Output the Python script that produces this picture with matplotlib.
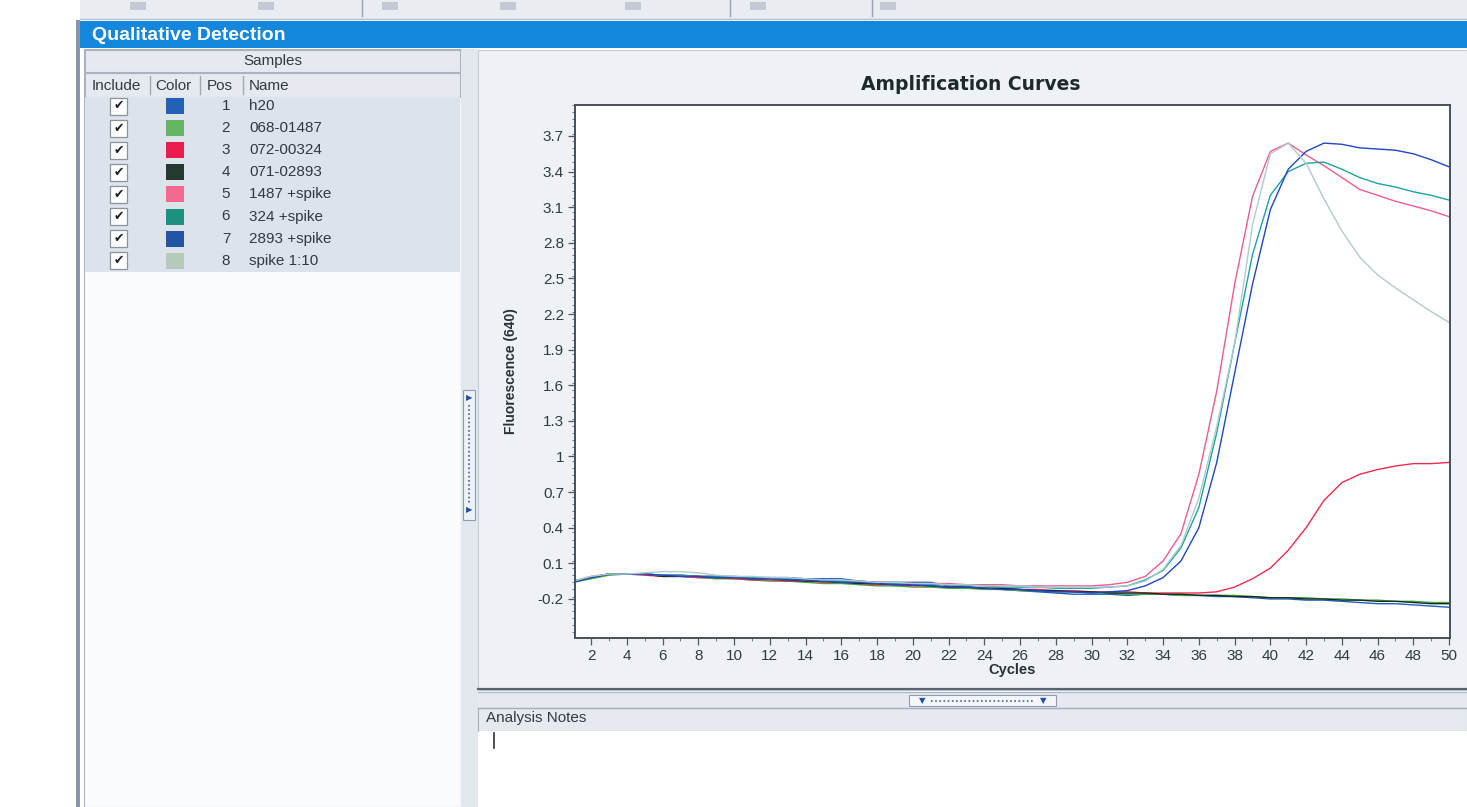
import matplotlib
matplotlib.use('Agg')
import matplotlib.pyplot as plt
from matplotlib.patches import Rectangle
from matplotlib.ticker import MultipleLocator, FixedLocator

# Sample table
sample_pos = [1, 2, 3, 4, 5, 6, 7, 8]
sample_names = ['h20', '068-01487', '072-00324', '071-02893',
                '1487 +spike', '324 +spike', '2893 +spike', 'spike 1:10']
swatch_colors = ['#2262b4', '#62b664', '#ea1e4c', '#263830',
                 '#f26a8c', '#1c9180', '#2256a4', '#b6cabc']
line_colors = ['#1f5fc4', '#3aae3a', '#f02a4e', '#1a2a22',
               '#f25a90', '#1aa4a2', '#2046c4', '#aecccc']

cycles = list(range(1, 51))

# Fluorescence (640) per cycle
h20 = [-0.06, -0.02, 0.01, 0.01, 0.01, 0.00, 0.00, -0.01, -0.01, -0.01,
       -0.02, -0.02, -0.02, -0.03, -0.03, -0.03, -0.05, -0.06, -0.06, -0.06,
       -0.06, -0.09, -0.10, -0.11, -0.12, -0.13, -0.14, -0.15, -0.16, -0.16,
       -0.16, -0.17, -0.16, -0.16, -0.17, -0.17, -0.18, -0.18, -0.19, -0.20,
       -0.20, -0.21, -0.21, -0.22, -0.23, -0.24, -0.24, -0.25, -0.26, -0.27]
s068 = [-0.06, -0.03, 0.00, 0.01, 0.01, -0.01, -0.01, -0.02, -0.03, -0.03,
        -0.04, -0.05, -0.05, -0.06, -0.07, -0.07, -0.08, -0.09, -0.09, -0.10,
        -0.10, -0.11, -0.11, -0.12, -0.12, -0.13, -0.13, -0.14, -0.14, -0.15,
        -0.15, -0.16, -0.16, -0.16, -0.17, -0.17, -0.17, -0.17, -0.18, -0.19,
        -0.19, -0.19, -0.20, -0.20, -0.21, -0.21, -0.22, -0.22, -0.23, -0.23]
s072 = [-0.05, -0.02, 0.01, 0.01, 0.00, -0.01, -0.01, -0.02, -0.02, -0.03,
        -0.04, -0.04, -0.05, -0.05, -0.06, -0.06, -0.07, -0.08, -0.08, -0.09,
        -0.09, -0.10, -0.10, -0.11, -0.11, -0.12, -0.12, -0.13, -0.13, -0.14,
        -0.14, -0.14, -0.15, -0.15, -0.15, -0.15, -0.14, -0.10, -0.03, 0.06,
        0.21, 0.40, 0.63, 0.78, 0.85, 0.89, 0.92, 0.94, 0.94, 0.95]
s071 = [-0.05, -0.02, 0.01, 0.01, 0.01, -0.01, -0.01, -0.01, -0.02, -0.02,
        -0.03, -0.03, -0.04, -0.05, -0.05, -0.06, -0.07, -0.07, -0.08, -0.08,
        -0.09, -0.10, -0.10, -0.11, -0.11, -0.12, -0.13, -0.13, -0.14, -0.14,
        -0.15, -0.15, -0.15, -0.16, -0.16, -0.17, -0.17, -0.18, -0.18, -0.19,
        -0.19, -0.20, -0.20, -0.21, -0.21, -0.22, -0.22, -0.23, -0.24, -0.24]
s1487_spike = [-0.05, -0.01, 0.01, 0.01, 0.01, 0.00, 0.00, -0.01, -0.01, -0.02,
               -0.02, -0.03, -0.03, -0.04, -0.04, -0.05, -0.05, -0.06, -0.06, -0.07,
               -0.07, -0.07, -0.08, -0.08, -0.08, -0.09, -0.09, -0.09, -0.09, -0.09,
               -0.08, -0.06, -0.01, 0.12, 0.35, 0.85, 1.55, 2.45, 3.19, 3.57,
               3.64, 3.54, 3.45, 3.35, 3.25, 3.20, 3.15, 3.11, 3.07, 3.02]
s324_spike = [-0.05, -0.02, 0.01, 0.01, 0.01, 0.00, 0.00, -0.01, -0.01, -0.02,
              -0.02, -0.02, -0.03, -0.04, -0.04, -0.05, -0.05, -0.06, -0.07, -0.07,
              -0.08, -0.08, -0.09, -0.09, -0.10, -0.10, -0.10, -0.11, -0.11, -0.11,
              -0.10, -0.09, -0.04, 0.04, 0.23, 0.57, 1.20, 1.95, 2.70, 3.20,
              3.40, 3.47, 3.48, 3.42, 3.35, 3.30, 3.27, 3.23, 3.20, 3.16]
s2893_spike = [-0.06, -0.02, 0.01, 0.01, 0.01, 0.00, -0.01, -0.01, -0.02, -0.02,
               -0.03, -0.03, -0.04, -0.04, -0.05, -0.06, -0.06, -0.07, -0.08, -0.08,
               -0.09, -0.10, -0.10, -0.11, -0.12, -0.12, -0.13, -0.14, -0.14, -0.15,
               -0.14, -0.13, -0.09, -0.02, 0.12, 0.40, 0.95, 1.70, 2.45, 3.08,
               3.42, 3.57, 3.64, 3.63, 3.60, 3.59, 3.58, 3.55, 3.50, 3.44]
spike_1_10 = [-0.05, -0.01, 0.01, 0.01, 0.02, 0.03, 0.03, 0.02, 0.00, -0.01,
              -0.01, -0.02, -0.02, -0.03, -0.04, -0.04, -0.05, -0.06, -0.06, -0.07,
              -0.07, -0.08, -0.08, -0.09, -0.09, -0.09, -0.10, -0.10, -0.10, -0.10,
              -0.10, -0.09, -0.05, 0.05, 0.25, 0.65, 1.25, 1.95, 2.95, 3.55,
              3.64, 3.47, 3.17, 2.90, 2.68, 2.53, 2.42, 2.32, 2.22, 2.13]

series = [h20, s068, s072, s071, s1487_spike, s324_spike, s2893_spike, spike_1_10]

y_ticks = [3.7, 3.4, 3.1, 2.8, 2.5, 2.2, 1.9, 1.6, 1.3, 1.0, 0.7, 0.4, 0.1, -0.2]
y_tick_labels = ['3.7', '3.4', '3.1', '2.8', '2.5', '2.2', '1.9', '1.6', '1.3',
                 '1', '0.7', '0.4', '0.1', '-0.2']
x_ticks = list(range(2, 51, 2))

plt.rcParams['font.family'] = ['Liberation Sans', 'DejaVu Sans']

W, H = 1467, 807
fig = plt.figure(figsize=(W / 100, H / 100), dpi=100)
fig.patch.set_facecolor('white')

# background "window" drawn in pixel coordinates
bg = fig.add_axes([0, 0, 1, 1])
bg.set_xlim(0, W)
bg.set_ylim(H, 0)
bg.axis('off')


def box(x, y, w, h, fc, ec='none', lw=0.0, z=1):
    bg.add_patch(Rectangle((x, y), w, h, facecolor=fc, edgecolor=ec, linewidth=lw, zorder=z))


# toolbar strip and title bar
box(80, 0, W - 80, 20, '#e9ecf1')
bg.plot([80, W], [19, 19], color='#b8c0cc', lw=1)
for sx in [362, 730, 872]:
    bg.plot([sx, sx], [0, 16], color='#9aa2ae', lw=1)
for ix in [130, 258, 382, 500, 625, 750, 880]:
    box(ix, 2, 16, 8, '#c4cad4', z=2)
box(80, 21, W - 80, 27, '#1487dd')
bg.text(92, 35, 'Qualitative Detection', color='white', fontsize=14,
        fontweight='bold', va='center', ha='left')

# left border
box(76, 20, 4, H - 20, '#8b97a9')

# left sample panel
box(84, 49, 377, H - 49, '#fafbfc', ec='#a9b2be', lw=0.8)
box(85, 50, 375, 22, '#e6eaf0', ec='#a9b2be', lw=0.8)
bg.text(273, 61, 'Samples', fontsize=11, color='#303a40', ha='center', va='center')
box(85, 73, 375, 24, '#e6eaf0', ec='#a9b2be', lw=0.8)
for dx in [150, 200, 243]:
    bg.plot([dx, dx], [76, 94], color='#a0a8b4', lw=1, zorder=3)
for tx, lab in [(92, 'Include'), (155, 'Color'), (207, 'Pos'), (249, 'Name')]:
    bg.text(tx, 85.5, lab, fontsize=11, color='#303a40', ha='left', va='center')
box(85, 97, 375, 175, '#dde3eb')

row_y0, row_dy = 106, 22.1
for i, (pos, name, sc) in enumerate(zip(sample_pos, sample_names, swatch_colors)):
    ry = row_y0 + i * row_dy
    box(110, ry - 8.5, 17, 17, 'white', ec='#8a929c', lw=0.9, z=3)
    bg.text(118.5, ry, '\u2714', family='DejaVu Sans', fontsize=9,
            color='#1c2228', ha='center', va='center', zorder=4)
    box(166, ry - 8, 18, 16, sc, z=3)
    bg.text(226, ry, str(pos), fontsize=11, color='#303a40', ha='center', va='center')
    bg.text(249, ry, name, fontsize=11, color='#303a40', ha='left', va='center')

# splitter between panels
box(461, 49, 17, H - 49, '#e3e8ee')
box(463, 390, 12, 130, '#eef2f7', ec='#8e9bb0', lw=0.8, z=3)
bg.text(469, 398, '\u25b6', family='DejaVu Sans', fontsize=6, color='#2050a8',
        ha='center', va='center', zorder=4)
bg.text(469, 510, '\u25b6', family='DejaVu Sans', fontsize=6, color='#2050a8',
        ha='center', va='center', zorder=4)
bg.plot([469, 469], [405, 503], color='#3a62b0', lw=1.2, ls=(0, (1, 1.5)), zorder=4)

# chart panel
box(478, 50, W - 478, 640, '#eef1f5', ec='#c4ccd6', lw=0.8)
bg.text(971, 84, 'Amplification Curves', family='DejaVu Sans', fontsize=13.5,
        fontweight='heavy', color='#1e2a2a', ha='center', va='center')

# divider and analysis notes
bg.plot([478, W], [689, 689], color='#5a6470', lw=1.6)
bg.plot([478, W], [692, 692], color='#b0b8c2', lw=1)
box(478, 693, W - 478, 15, '#e6eaf0')
box(909, 695, 147, 11, '#f4f6fa', ec='#8e9bb0', lw=0.8, z=3)
bg.text(922, 700.5, '\u25bc', family='DejaVu Sans', fontsize=6, color='#2050a8',
        ha='center', va='center', zorder=4)
bg.text(1043, 700.5, '\u25bc', family='DejaVu Sans', fontsize=6, color='#2050a8',
        ha='center', va='center', zorder=4)
bg.plot([931, 1034], [700.5, 700.5], color='#3a62b0', lw=1.2, ls=(0, (1, 1.5)), zorder=4)
bg.plot([478, W], [708, 708], color='#a8b0bc', lw=1)
box(478, 708, W - 478, 23, '#e6eaf0', ec='#a8b0bc', lw=0.8)
bg.text(486, 718, 'Analysis Notes', fontsize=11, color='#303a40', ha='left', va='center')
box(479, 731, W - 479, H - 731, 'white')
bg.plot([494, 494], [733, 748], color='#303030', lw=1.2)

# amplification plot
ax = fig.add_axes([575 / W, 1 - 638 / H, 875 / W, 533 / H])
ax.set_facecolor('white')
for vals, c in zip(series, line_colors):
    ax.plot(cycles, vals, color=c, lw=1.0)

ax.set_xlim(1.1, 50.05)
ax.set_ylim(-0.529, 3.961)
ax.set_xticks(x_ticks)
ax.xaxis.set_minor_locator(MultipleLocator(1))
ax.yaxis.set_major_locator(FixedLocator(y_ticks))
ax.set_yticklabels(y_tick_labels)
ax.yaxis.set_minor_locator(MultipleLocator(0.06))
ax.tick_params(axis='both', which='major', labelsize=11, length=5, width=0.9,
               color='#505860', labelcolor='#333a40', direction='out', pad=3)
ax.tick_params(axis='both', which='minor', length=2.5, width=0.7, color='#707880')
for sp in ax.spines.values():
    sp.set_color('#47505a')
    sp.set_linewidth(1.4)

ax.set_xlabel('Cycles', fontsize=10.5, fontweight='bold', color='#2a3036', labelpad=0)
ax.set_ylabel('Fluorescence (640)', fontsize=10, fontweight='bold', color='#2a3036',
              labelpad=14)

fig.savefig('out.png', dpi=100)
